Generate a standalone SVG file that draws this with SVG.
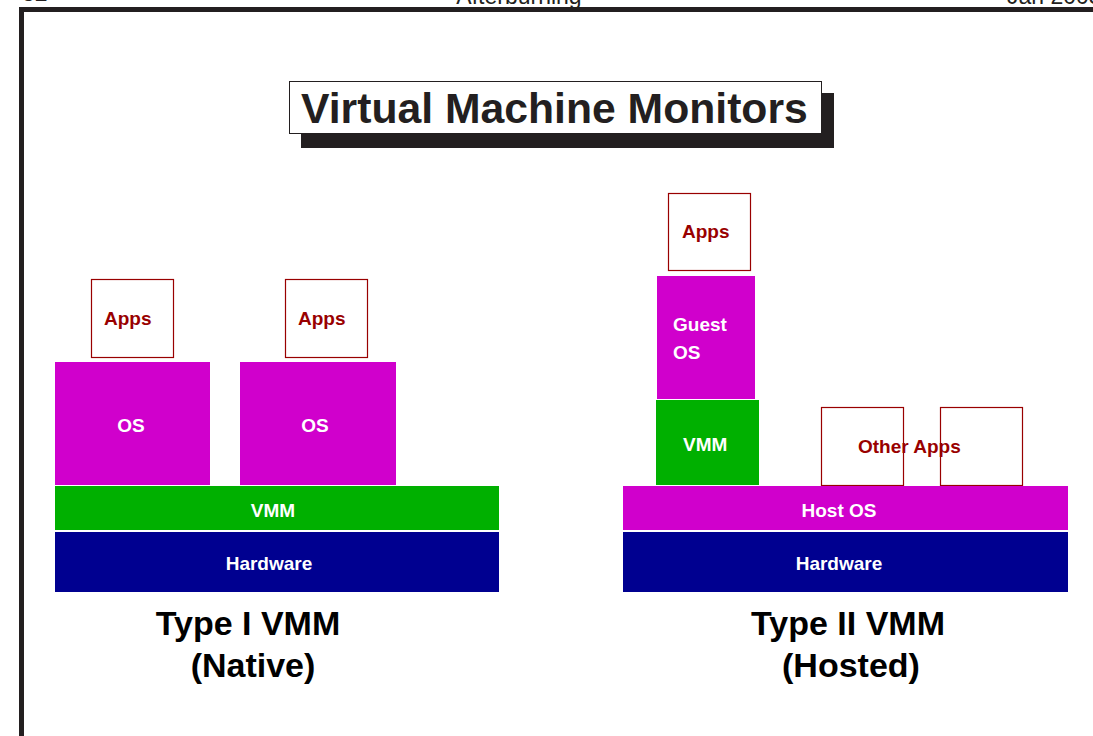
<svg xmlns="http://www.w3.org/2000/svg" width="1093" height="736" viewBox="0 0 1093 736">
  <style>
    .hdr { font-family: "Liberation Sans", Arial, sans-serif; font-size: 23px; fill: #231f20; }
    .title { font-family: "Liberation Sans", Arial, sans-serif; font-weight: bold; font-size: 42.7px; fill: #231f20; }
    .cap { font-family: "Liberation Sans", Arial, sans-serif; font-weight: bold; font-size: 34px; fill: #000; text-anchor: middle; }
    .lbl { font-family: "Liberation Sans", Arial, sans-serif; font-weight: bold; font-size: 19px; }
    .w { fill: #ffffff; }
    .r { fill: #990000; }
    .mid { text-anchor: middle; }
    .app { fill: #ffffff; stroke: #990000; stroke-width: 1.2; }
    .os { fill: #d000cc; }
    .vmm { fill: #00b000; }
    .hw { fill: #000090; }
  </style>

  <!-- page header (running heads, clipped at the top edge) -->
  <text class="hdr" x="22" y="1">32</text>
  <text class="hdr mid" x="519" y="4">Afterburning</text>
  <text class="hdr" x="1007" y="4">Jan 2003</text>

  <!-- page frame -->
  <g id="frame" fill="#231f20">
    <rect x="19" y="7" width="1074" height="5"/>
    <rect x="19" y="7" width="5" height="729"/>
  </g>

  <!-- slide title with drop shadow -->
  <g id="title">
    <rect x="301" y="93" width="533" height="55" fill="#231f20"/>
    <rect x="289.5" y="81.5" width="532" height="52" fill="#ffffff" stroke="#231f20" stroke-width="1"/>
    <text class="title" x="301" y="123">Virtual Machine Monitors</text>
  </g>

  <!-- Type I stack -->
  <g id="t1-apps1"><rect class="app" x="91.5" y="279.5" width="82" height="78"/><text class="lbl r" x="104" y="325">Apps</text></g>
  <g id="t1-apps2"><rect class="app" x="285.5" y="279.5" width="82" height="78"/><text class="lbl r" x="298" y="325">Apps</text></g>
  <g id="t1-os1"><rect class="os" x="55" y="362" width="155" height="123"/><text class="lbl w mid" x="131" y="432">OS</text></g>
  <g id="t1-os2"><rect class="os" x="240" y="362" width="156" height="123"/><text class="lbl w mid" x="315" y="432">OS</text></g>
  <g id="t1-vmm"><rect class="vmm" x="55" y="486" width="444" height="44"/><text class="lbl w mid" x="273" y="517">VMM</text></g>
  <g id="t1-hw"><rect class="hw" x="55" y="532" width="444" height="60"/><text class="lbl w mid" x="269" y="570">Hardware</text></g>
  <g id="t1-caption">
    <text class="cap" x="248" y="635">Type I VMM</text>
    <text class="cap" x="253" y="677">(Native)</text>
  </g>

  <!-- Type II stack -->
  <g id="t2-apps"><rect class="app" x="668.5" y="193.5" width="82" height="77"/><text class="lbl r" x="682" y="238">Apps</text></g>
  <g id="t2-guest"><rect class="os" x="657" y="276" width="98" height="123"/><text class="lbl w" x="673" y="331">Guest</text><text class="lbl w" x="673" y="359">OS</text></g>
  <g id="t2-vmm"><rect class="vmm" x="656" y="400" width="103" height="85"/><text class="lbl w" x="683" y="451">VMM</text></g>
  <g id="t2-other1"><rect class="app" x="821.5" y="407.5" width="82" height="78"/></g>
  <g id="t2-other2"><rect class="app" x="940.5" y="407.5" width="82" height="78"/></g>
  <text class="lbl r" x="858" y="453">Other Apps</text>
  <g id="t2-host"><rect class="os" x="623" y="486" width="445" height="44"/><text class="lbl w mid" x="839" y="517">Host OS</text></g>
  <g id="t2-hw"><rect class="hw" x="623" y="532" width="445" height="60"/><text class="lbl w mid" x="839" y="570">Hardware</text></g>
  <g id="t2-caption">
    <text class="cap" x="848" y="635">Type II VMM</text>
    <text class="cap" x="851" y="677">(Hosted)</text>
  </g>
</svg>
